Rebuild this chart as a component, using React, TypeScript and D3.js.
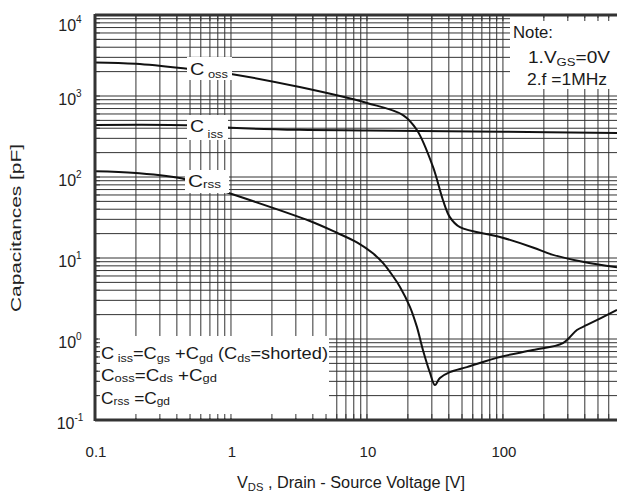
import React from "react";
import * as d3 from "d3";

// Capacitance vs. drain-source voltage, log-log (V, pF)
const cossV = [0.1, 0.2, 0.5, 1, 3.2, 10, 18.4, 23.3, 30.6, 36.2, 40.7, 48.3, 95, 166, 230, 387, 690];
const cossC = [2600, 2500, 2150, 1870, 1290, 820, 582, 380, 133, 52, 32, 24, 18.2, 13.5, 11, 9, 7.7];

const cissV = [0.1, 0.5, 1, 3.2, 10, 100, 690];
const cissC = [440, 436, 405, 382, 375, 362, 350];

const crssV = [0.1, 0.2, 0.46, 1, 3.8, 6, 8.5, 11, 13.1, 15.5, 17.5, 20.7, 23.3, 25.8, 29.1, 31.6, 34.4, 40.7, 54.3, 95, 166, 276, 350, 415, 690];
const crssC = [118, 112, 94, 62, 28.6, 20.5, 15.5, 11.5, 8.7, 6.0, 4.4, 2.5, 1.41, 0.73, 0.38, 0.27, 0.33, 0.39, 0.45, 0.6, 0.73, 0.89, 1.29, 1.49, 2.28];

const xTickValues = [0.1, 1, 10, 100];
const xTickLabels = ["0.1", "1", "10", "100"];
const yTickExponents = [4, 3, 2, 1, 0, -1];

const X_MAX = 690;
const W = 617;
const H = 496;
const left = 95;
const top = 15;
const right = 617;
const bottom = 420;

const FONT = "'Liberation Sans', Arial, sans-serif";
const GRID = "#333";

type Seg = { t: string; sub?: boolean };

function RichText(props: {
  x: number;
  y: number;
  segs: Seg[];
  size: number;
  subSize: number;
  shift?: number;
  textLength?: number;
  anchor?: string;
}) {
  const { x, y, segs, size, subSize, textLength, anchor } = props;
  const shift = props.shift ?? 3;
  let cur = 0;
  const spans = segs.map((s, i) => {
    const target = s.sub ? shift : 0;
    const dy = target - cur;
    cur = target;
    return (
      <tspan key={i} dy={dy} fontSize={s.sub ? subSize : size}>
        {s.t}
      </tspan>
    );
  });
  return (
    <text
      x={x}
      y={y}
      fontFamily={FONT}
      fontSize={size}
      fill="#1a1a1a"
      textAnchor={anchor || "start"}
      textLength={textLength}
      lengthAdjust={textLength ? "spacingAndGlyphs" : undefined}
      style={{ whiteSpace: "pre" }}
    >
      {spans}
    </text>
  );
}

export default function App() {
  const x = d3.scaleLog().domain([0.1, X_MAX]).range([left, right]);
  const y = d3.scaleLog().domain([0.1, 1e4]).range([bottom, top]);

  const xGrid: number[] = [];
  for (let e = -1; e <= 2; e++) {
    for (let k = 1; k <= 9; k++) {
      const v = k * Math.pow(10, e);
      if (v <= X_MAX) xGrid.push(v);
    }
  }
  const yGrid: number[] = [];
  for (let e = -1; e <= 3; e++) {
    for (let k = 1; k <= 9; k++) yGrid.push(k * Math.pow(10, e));
  }
  yGrid.push(1e4);

  const line = d3
    .line<[number, number]>()
    .x((d) => x(d[0]))
    .y((d) => y(d[1]))
    .curve(d3.curveCatmullRom.alpha(0.5));

  const zip = (a: number[], b: number[]) => a.map((v, i) => [v, b[i]] as [number, number]);

  const curves = [zip(cossV, cossC), zip(cissV, cissC), zip(crssV, crssC)];

  return (
    <svg
      width={W}
      height={H}
      style={{ position: "absolute", left: 0, top: 0, background: "#fff" }}
    >
      <rect x={0} y={0} width={W} height={H} fill="#fff" />
      <defs>
        <clipPath id="plot">
          <rect x={left} y={top} width={right - left} height={bottom - top} />
        </clipPath>
      </defs>

      {/* grid */}
      <g stroke={GRID} strokeWidth={1}>
        {xGrid.map((v, i) => (
          <line key={"gx" + i} x1={x(v)} x2={x(v)} y1={top} y2={bottom} />
        ))}
        {yGrid.map((v, i) => (
          <line key={"gy" + i} x1={left} x2={right} y1={y(v)} y2={y(v)} />
        ))}
      </g>

      {/* curves */}
      <g clipPath="url(#plot)" fill="none" stroke="#111" strokeWidth={2}>
        {curves.map((c, i) => (
          <path key={i} d={line(c) || ""} />
        ))}
      </g>

      {/* label backgrounds */}
      <g fill="#fff">
        <rect x={187} y={57} width={45} height={23} />
        <rect x={187} y={115} width={41} height={25} />
        <rect x={185} y={170} width={44} height={23} />
        <rect x={98} y={336} width={231} height={82} />
        <rect x={510} y={18} width={107} height={71} />
      </g>

      {/* inward ticks */}
      <g stroke={GRID} strokeWidth={1}>
        {xGrid.map((v, i) => (
          <g key={"tx" + i}>
            <line x1={x(v)} x2={x(v)} y1={bottom} y2={bottom - 6} />
            <line x1={x(v)} x2={x(v)} y1={top} y2={top + 6} />
          </g>
        ))}
        {yGrid.map((v, i) => (
          <line key={"ty" + i} x1={left} x2={left + 5} y1={y(v)} y2={y(v)} />
        ))}
      </g>

      {/* frame */}
      <g stroke="#333" strokeWidth={3} fill="none">
        <line x1={left} x2={left} y1={top - 1} y2={bottom + 1} />
        <line x1={left} x2={right} y1={bottom} y2={bottom} />
        <line x1={left} x2={right} y1={top} y2={top} />
      </g>

      {/* curve labels */}
      <RichText x={190} y={75} segs={[{ t: "C" }, { t: " oss", sub: true }]} size={17} subSize={11} textLength={38} />
      <RichText x={190} y={132} segs={[{ t: "C" }, { t: " iss", sub: true }]} size={17} subSize={11} shift={6} textLength={33} />
      <RichText x={188} y={187} segs={[{ t: "C" }, { t: "rss", sub: true }]} size={17} subSize={11} shift={1} textLength={33} />

      {/* definitions */}
      <RichText
        x={101}
        y={359}
        segs={[
          { t: "C" },
          { t: " iss", sub: true },
          { t: "=C" },
          { t: "gs", sub: true },
          { t: " +C" },
          { t: "gd", sub: true },
          { t: " (C" },
          { t: "ds", sub: true },
          { t: "=shorted)" },
        ]}
        size={16}
        subSize={11}
        textLength={227}
      />
      <RichText
        x={101}
        y={381}
        segs={[{ t: "C" }, { t: "oss", sub: true }, { t: "=C" }, { t: "ds", sub: true }, { t: " +C" }, { t: "gd", sub: true }]}
        size={16}
        subSize={11}
        shift={1}
        textLength={116}
      />
      <RichText
        x={101}
        y={404}
        segs={[{ t: "C" }, { t: "rss", sub: true }, { t: " =C" }, { t: "gd", sub: true }]}
        size={16}
        subSize={11}
        shift={1}
        textLength={69}
      />

      {/* note */}
      <RichText x={513} y={38} segs={[{ t: "Note:" }]} size={16} subSize={11} textLength={40} />
      <RichText
        x={528}
        y={63}
        segs={[{ t: "1.V" }, { t: "GS", sub: true }, { t: "=0V" }]}
        size={16}
        subSize={11}
        textLength={82}
      />
      <RichText x={527} y={85} segs={[{ t: "2.f =1MHz" }]} size={16} subSize={11} textLength={80} />

      {/* y tick labels */}
      {yTickExponents.map((e) => {
        const ty = Math.max(y(Math.pow(10, e)) + 9, 31);
        return (
          <text key={"yl" + e} x={70} y={ty} fontFamily={FONT} fontSize={16} fill="#222" textAnchor="middle">
            <tspan>10</tspan>
            <tspan dy={-8} fontSize={10}>
              {e}
            </tspan>
          </text>
        );
      })}

      {/* x tick labels */}
      {xTickValues.map((v, i) => (
        <text key={"xl" + i} x={x(v) + 1} y={457} fontFamily={FONT} fontSize={15} fill="#222" textAnchor="middle">
          {xTickLabels[i]}
        </text>
      ))}

      {/* axis titles */}
      <RichText
        x={237}
        y={488}
        segs={[{ t: "V" }, { t: "DS", sub: true }, { t: " , Drain - Source Voltage [V]" }]}
        size={16}
        subSize={11}
        textLength={228}
      />
      <text
        transform="translate(21,228) rotate(-90)"
        fontFamily={FONT}
        fontSize={15}
        fill="#222"
        textAnchor="middle"
        textLength={168}
        lengthAdjust="spacingAndGlyphs"
      >
        Capacitances [pF]
      </text>
    </svg>
  );
}
